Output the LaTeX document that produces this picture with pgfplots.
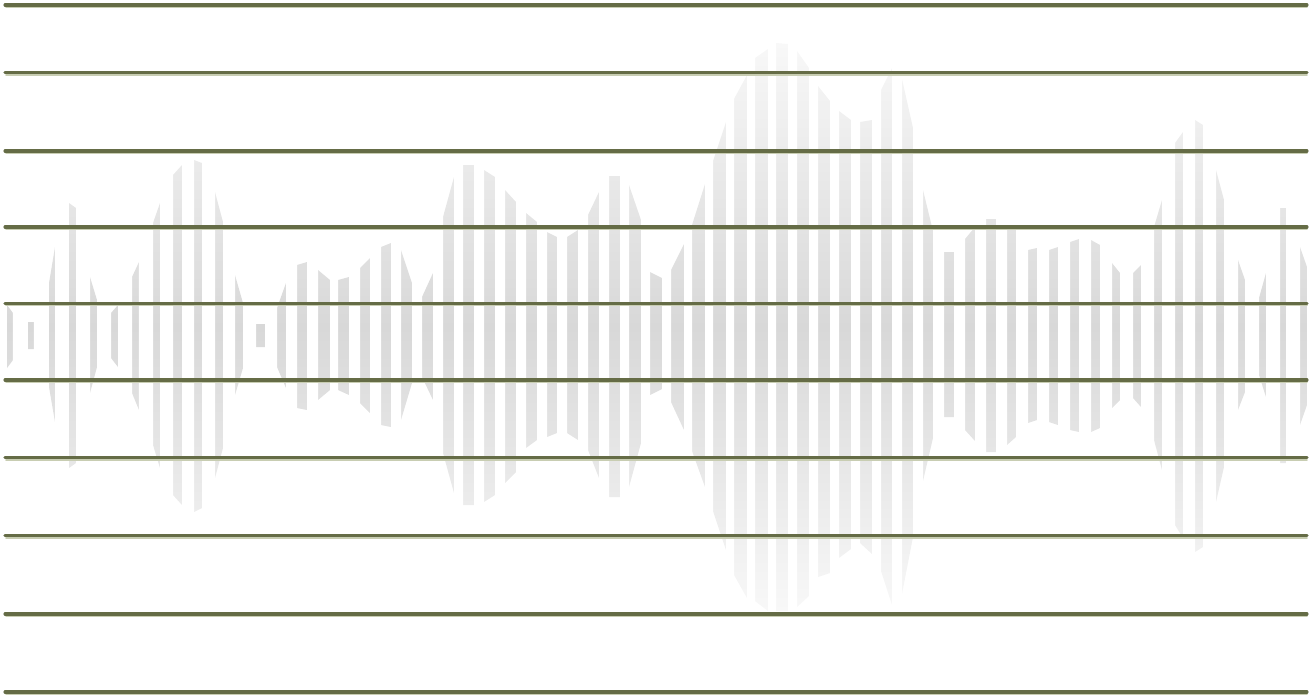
\documentclass[border=0pt]{standalone}
\usepackage{pgfplots}
\pgfplotsset{compat=1.18}
\definecolor{olive1}{RGB}{101,108,70}
\definecolor{olive2}{RGB}{200,205,178}
\definecolor{wavemid}{RGB}{216,216,216}
\definecolor{waveend}{RGB}{248,248,248}
\begin{document}
\begin{tikzpicture}
\begin{axis}[
  scale only axis, width=13.12cm, height=6.98cm,
  xmin=0, xmax=1312, ymin=0, ymax=698, y dir=reverse,
  hide axis, clip=true,
]
% waveform envelope (upper edge left to right, lower edge right to left)
\addplot[draw=none, shade, shading=axis, top color=waveend, bottom color=waveend, middle color=wavemid] table {
x y
7 305
13 313
28 322
34 322
49 283
55 247
69 203
76 208
90 277
97 300
111 313
118 305
132 277
139 262
153 223
160 203
173 175
182 165
194 160
202 163
215 192
223 222
235 275
243 303
256 324
265 324
277 308
286 283
297 265
307 262
318 270
330 280
338 280
349 277
360 268
370 258
381 247
391 243
401 250
412 283
422 297
433 273
443 217
454 177
463 165
474 165
484 170
495 177
505 190
516 202
526 213
537 222
547 232
557 237
567 237
578 230
588 215
599 192
609 176
620 176
629 185
641 220
650 272
662 278
671 270
684 244
692 225
705 184
713 161
726 122
734 99
747 75
755 58
768 49
776 43
788 44
797 51
809 68
818 86
830 101
839 111
851 120
860 122
872 120
881 90
892 68
902 79
913 128
923 190
933 231
944 252
954 252
965 239
975 227
986 219
996 219
1007 228
1016 230
1028 250
1037 248
1049 250
1058 247
1070 242
1079 239
1091 240
1100 245
1112 263
1120 273
1133 273
1141 265
1154 227
1162 200
1175 143
1183 132
1195 120
1203 125
1216 170
1224 200
1238 260
1245 280
1259 298
1266 273
1280 208
1286 208
1300 247
1307 267
1307 405
1300 425
1286 463
1280 463
1266 397
1259 375
1245 392
1238 410
1224 467
1216 502
1203 547
1195 552
1183 538
1175 525
1162 470
1154 440
1141 407
1133 398
1120 400
1112 408
1100 428
1091 432
1079 432
1070 430
1058 425
1049 422
1037 420
1028 423
1016 437
1007 445
996 452
986 452
975 441
965 430
954 417
944 417
933 438
923 481
913 537
902 594
892 605
881 571
872 554
860 543
851 549
839 558
830 573
818 577
809 596
797 607
788 611
776 611
768 611
755 601
747 598
734 575
726 550
713 511
705 487
692 451
684 430
671 402
662 389
650 395
641 443
629 487
620 497
609 497
599 478
588 450
578 440
567 433
557 433
547 437
537 440
526 448
516 472
505 483
495 495
484 502
474 505
463 505
454 493
443 453
433 400
422 377
412 383
401 420
391 427
381 425
370 413
360 403
349 395
338 390
330 390
318 400
307 410
297 408
286 388
277 367
265 347
256 347
243 368
235 395
223 448
215 478
202 508
194 512
182 505
173 495
160 468
153 445
139 410
132 393
118 367
111 358
97 367
90 393
76 463
69 468
55 422
49 387
34 349
28 349
13 360
7 368
};
% white gaps between the stripes
\addplot[const plot, fill=white, draw=none] coordinates {
(0,698) (7,0) (13,698) (28,0) (34,698) (49,0) (55,698) (69,0) (76,698) (90,0) (97,698) (111,0) (118,698) (132,0) (139,698) (153,0) (160,698) (173,0) (182,698) (194,0) (202,698) (215,0) (223,698) (235,0) (243,698) (256,0) (265,698) (277,0) (286,698) (297,0) (307,698) (318,0) (330,698) (338,0) (349,698) (360,0) (370,698) (381,0) (391,698) (401,0) (412,698) (422,0) (433,698) (443,0) (454,698) (463,0) (474,698) (484,0) (495,698) (505,0) (516,698) (526,0) (537,698) (547,0) (557,698) (567,0) (578,698) (588,0) (599,698) (609,0) (620,698) (629,0) (641,698) (650,0) (662,698) (671,0) (684,698) (692,0) (705,698) (713,0) (726,698) (734,0) (747,698) (755,0) (768,698) (776,0) (788,698) (797,0) (809,698) (818,0) (830,698) (839,0) (851,698) (860,0) (872,698) (881,0) (892,698) (902,0) (913,698) (923,0) (933,698) (944,0) (954,698) (965,0) (975,698) (986,0) (996,698) (1007,0) (1016,698) (1028,0) (1037,698) (1049,0) (1058,698) (1070,0) (1079,698) (1091,0) (1100,698) (1112,0) (1120,698) (1133,0) (1141,698) (1154,0) (1162,698) (1175,0) (1183,698) (1195,0) (1203,698) (1216,0) (1224,698) (1238,0) (1245,698) (1259,0) (1266,698) (1280,0) (1286,698) (1300,0) (1307,698) (1312,698)
} \closedcycle;
% horizontal rules: light underline then dark line
\pgfplotsinvokeforeach{5,72.7,151,227,303.3,380,457.8,535.8,614,692}{
  \addplot[olive2, line width=0.45pt, line cap=round] coordinates {(6,#1+2.2) (1307,#1+2.2)};
  \addplot[olive1, line width=0.9pt, line cap=round] coordinates {(5,#1) (1307,#1)};
}
\end{axis}
\end{tikzpicture}
\end{document}
